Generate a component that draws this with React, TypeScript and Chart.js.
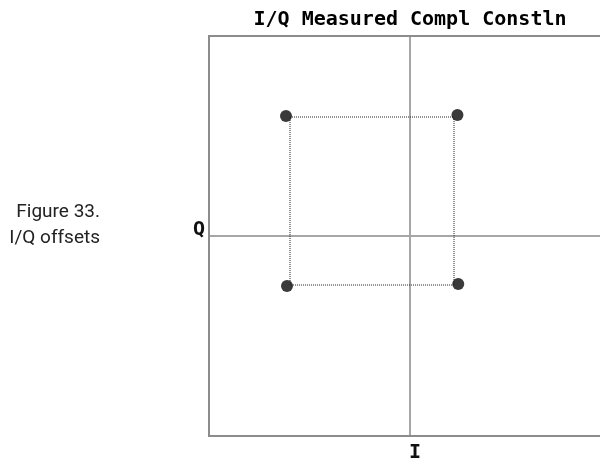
import React, { useEffect, useRef } from "react";
import { Chart, registerables } from "chart.js";

Chart.register(...registerables);

const TITLE = "I/Q Measured Compl Constln";
const X_LABEL = "I";
const Y_LABEL = "Q";
const CAPTION = ["Figure 33.", "I/Q offsets"];

// measured constellation points (I, Q)
const pointI = [-0.617, 0.236, -0.612, 0.24];
const pointQ = [0.6, 0.605, -0.25, -0.24];

// dotted ideal (offset) square, closed
const squareI = [-0.597, 0.219, 0.219, -0.597, -0.597];
const squareQ = [0.595, 0.595, -0.245, -0.245, 0.595];

const framePlugin = {
  id: "frame",
  beforeDatasetsDraw(chart: any) {
    const { ctx, chartArea } = chart;
    ctx.save();
    ctx.strokeStyle = "#8c8c8c";
    ctx.lineWidth = 2;
    ctx.strokeRect(chartArea.left, chartArea.top, chartArea.right - chartArea.left, chartArea.bottom - chartArea.top);
    ctx.restore();
  },
  afterDraw(chart: any) {
    const { ctx, chartArea, scales } = chart;
    ctx.save();
    ctx.fillStyle = "#111";
    ctx.font = "bold 20px 'DejaVu Sans Mono'";
    ctx.textAlign = "right";
    ctx.textBaseline = "middle";
    ctx.fillText(Y_LABEL, chartArea.left - 4, scales.y.getPixelForValue(0) - 6);
    ctx.textAlign = "center";
    ctx.textBaseline = "top";
    ctx.fillText(X_LABEL, scales.x.getPixelForValue(0) + 5, chartArea.bottom + 7);
    ctx.restore();
  },
};

export default function App() {
  const ref = useRef<HTMLCanvasElement>(null);
  useEffect(() => {
    if (!ref.current) return;
    const chart = new Chart(ref.current, {
      type: "scatter",
      data: {
        datasets: [
          {
            label: "square",
            data: squareI.map((x, i) => ({ x, y: squareQ[i] })),
            showLine: true,
            borderColor: "#222",
            borderWidth: 1,
            borderDash: [1, 1],
            pointRadius: 0,
            fill: false,
          },
          {
            label: "points",
            data: pointI.map((x, i) => ({ x, y: pointQ[i] })),
            backgroundColor: "#3a3a3a",
            borderColor: "#3a3a3a",
            pointRadius: 6,
            borderWidth: 0,
          },
        ],
      },
      options: {
        animation: false,
        responsive: false,
        layout: { padding: { left: 209, right: 9, top: 0, bottom: 25 } },
        plugins: {
          legend: { display: false },
          tooltip: { enabled: false },
          title: {
            display: true,
            text: TITLE,
            color: "#000",
            font: { family: "'DejaVu Sans Mono'", size: 20, weight: "bold" },
            padding: { top: 8, bottom: 4 },
          },
        },
        scales: {
          x: {
            type: "linear",
            min: -1,
            max: 1,
            ticks: { display: false, stepSize: 1 },
            grid: {
              drawTicks: false,
              color: (c: any) => (c.tick && c.tick.value === 0 ? "#a6a6a6" : "rgba(0,0,0,0)"),
              lineWidth: 2,
            },
            border: { display: false },
            afterFit: (s: any) => { s.height = 0; },
          },
          y: {
            type: "linear",
            min: -1,
            max: 1,
            ticks: { display: false, stepSize: 1 },
            grid: {
              drawTicks: false,
              color: (c: any) => (c.tick && c.tick.value === 0 ? "#a6a6a6" : "rgba(0,0,0,0)"),
              lineWidth: 2,
            },
            border: { display: false },
            afterFit: (s: any) => { s.width = 0; },
          },
        },
      },
      plugins: [framePlugin],
    });
    return () => chart.destroy();
  }, []);

  return (
    <div style={{ position: "absolute", left: 0, top: 0, width: 600, height: 461, overflow: "hidden", background: "#fff" }}>
      <canvas ref={ref} width={620} height={461} style={{ display: "block", width: 620, height: 461 }} />
      <div
        style={{
          position: "absolute",
          right: 500,
          top: 198,
          textAlign: "right",
          fontFamily: "'Liberation Sans Narrow', 'Roboto', sans-serif",
          fontSize: 19,
          lineHeight: "26px",
          color: "#222",
          whiteSpace: "nowrap",
        }}
      >
        {CAPTION.map((t) => (
          <div key={t}>{t}</div>
        ))}
      </div>
    </div>
  );
}
